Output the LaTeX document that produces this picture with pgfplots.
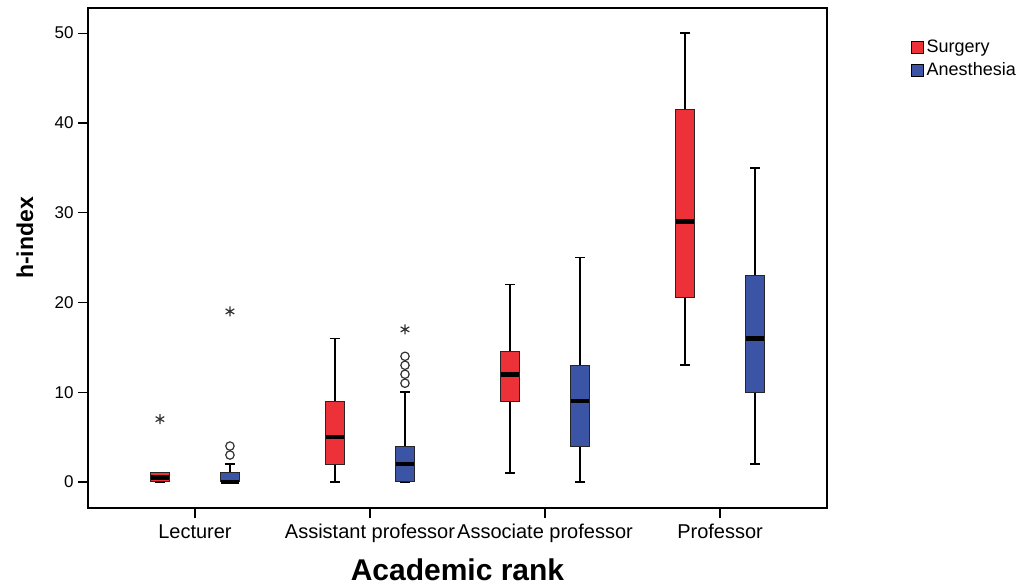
\documentclass[border=0pt]{standalone}
\usepackage{pgfplots}
\pgfplotsset{compat=1.18}
\usepgfplotslibrary{statistics}
\usepackage{fontspec}
\setmainfont{Liberation Sans}
\definecolor{surg}{RGB}{236,50,56}
\definecolor{anes}{RGB}{59,84,166}
\begin{document}
\begin{tikzpicture}
\useasboundingbox (-44pt,-39pt) rectangle (465pt,254pt);
\begin{axis}[
  scale only axis, width=369.5pt, height=250pt,
  xmin=-0.611, xmax=3.611, ymin=-2.9, ymax=52.8,
  xtick={0,1,2,3},
  xticklabels={Lecturer, Assistant professor, Associate professor, Professor},
  ytick={0,10,20,30,40,50},
  tick align=outside, tick pos=left, major tick length=5pt,
  tick style={black, line width=0.6pt},
  axis line style={black, line width=0.7pt},
  /pgf/number format/assume math mode=true,
  yticklabel style={font=\fontsize{8.5}{9}\selectfont, inner sep=2pt},
  xticklabel style={font=\fontsize{10}{11}\selectfont, inner sep=3pt},
  xlabel={Academic rank}, ylabel={h-index},
  xlabel style={font=\bfseries\fontsize{15}{17}\selectfont, at={(axis description cs:0.5,0)}, anchor=center, yshift=-31pt},
  ylabel style={font=\bfseries\fontsize{11.5}{13}\selectfont, at={(axis description cs:-0.0853,0.54)}, anchor=center},
  boxplot/draw direction=y,
  boxplot/every whisker/.style={black, line width=0.8pt},
  boxplot/every median/.style={black, line width=2.3pt},
  boxplot/every box/.style={draw=black!85, line width=0.5pt},
  legend style={at={(axis description cs:1.113,0.943)}, anchor=north west, draw=none, fill=none,
    font=\fontsize{9}{10}\selectfont, inner sep=0pt, row sep=0.5pt,
    nodes={inner sep=1.5pt}},
  legend cell align=left,
]
% Lecturer
\addplot[forget plot, fill=surg, draw=black, boxplot prepared={lower whisker=0, lower quartile=0, median=0.5, upper quartile=1, upper whisker=1, draw position=-0.2, box extend=0.106, whisker extend=0.057}] coordinates {};
\addplot[forget plot, fill=anes, draw=black, boxplot prepared={lower whisker=0, lower quartile=0, median=0, upper quartile=1, upper whisker=2, draw position=0.2, box extend=0.106, whisker extend=0.057}] coordinates {};
% Assistant professor
\addplot[forget plot, fill=surg, draw=black, boxplot prepared={lower whisker=0, lower quartile=2, median=5, upper quartile=9, upper whisker=16, draw position=0.8, box extend=0.106, whisker extend=0.057}] coordinates {};
\addplot[forget plot, fill=anes, draw=black, boxplot prepared={lower whisker=0, lower quartile=0, median=2, upper quartile=4, upper whisker=10, draw position=1.2, box extend=0.106, whisker extend=0.057}] coordinates {};
% Associate professor
\addplot[forget plot, fill=surg, draw=black, boxplot prepared={lower whisker=1, lower quartile=9, median=12, upper quartile=14.5, upper whisker=22, draw position=1.8, box extend=0.106, whisker extend=0.057}] coordinates {};
\addplot[forget plot, fill=anes, draw=black, boxplot prepared={lower whisker=0, lower quartile=4, median=9, upper quartile=13, upper whisker=25, draw position=2.2, box extend=0.106, whisker extend=0.057}] coordinates {};
% Professor
\addplot[forget plot, fill=surg, draw=black, boxplot prepared={lower whisker=13, lower quartile=20.5, median=29, upper quartile=41.5, upper whisker=50, draw position=2.8, box extend=0.106, whisker extend=0.057}] coordinates {};
\addplot[forget plot, fill=anes, draw=black, boxplot prepared={lower whisker=2, lower quartile=10, median=16, upper quartile=23, upper whisker=35, draw position=3.2, box extend=0.106, whisker extend=0.057}] coordinates {};
% outliers
\addplot[forget plot, only marks, mark=asterisk, mark size=2.5pt, black!80, mark options={line width=0.6pt}] coordinates {(-0.2,7) (0.2,19) (1.2,17)};
\addplot[forget plot, only marks, mark=o, mark size=2.1pt, black!80, mark options={line width=0.6pt}] coordinates {(0.2,3) (0.2,4) (1.2,11) (1.2,12) (1.2,13) (1.2,14)};
% legend
\addlegendimage{legend image code/.code={\draw[fill=surg, draw=black, line width=0.4pt] (0pt,-3pt) rectangle (6pt,3pt);}}
\addlegendentry{Surgery}
\addlegendimage{legend image code/.code={\draw[fill=anes, draw=black, line width=0.4pt] (0pt,-3pt) rectangle (6pt,3pt);}}
\addlegendentry{Anesthesia}
\end{axis}
\end{tikzpicture}
\end{document}
